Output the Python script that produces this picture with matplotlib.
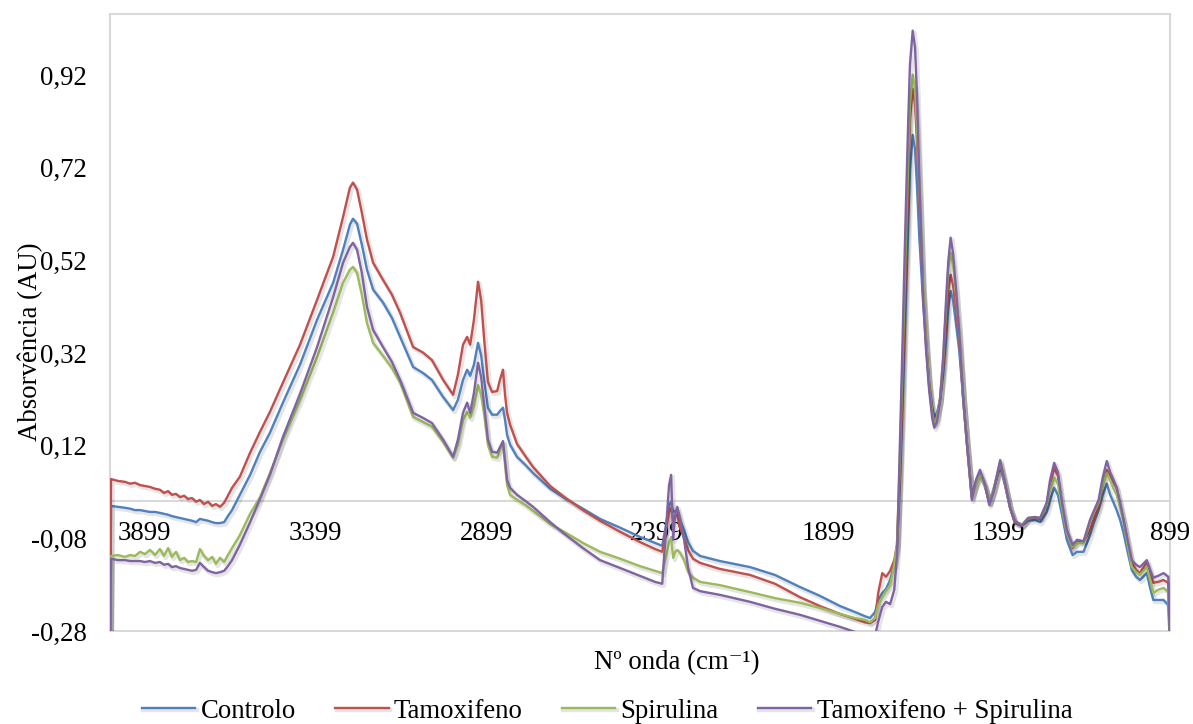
import matplotlib
matplotlib.use("Agg")
import matplotlib.pyplot as plt
import matplotlib.patheffects as pe
from matplotlib.patches import Rectangle

# FTIR spectra (absorbance vs. wavenumber, cm-1)
wavenumber = [
    4000, 3997, 3977, 3956, 3941, 3927, 3912, 3898, 3883, 3868,
    3854, 3842, 3830, 3819, 3807, 3795, 3783, 3772, 3760, 3748,
    3737, 3725, 3713, 3701, 3690, 3678, 3666, 3655, 3643, 3620,
    3590, 3561, 3532, 3494, 3444, 3394, 3347, 3318, 3298, 3289,
    3277, 3263, 3248, 3230, 3201, 3175, 3151, 3113, 3084, 3058,
    3025, 2996, 2982, 2967, 2955, 2946, 2935, 2923, 2914, 2905,
    2894, 2882, 2867, 2859, 2850, 2844, 2838, 2829, 2809, 2785,
    2762, 2712, 2666, 2616, 2566, 2507, 2449, 2405, 2384, 2373,
    2364, 2358, 2352, 2346, 2340, 2332, 2320, 2308, 2294, 2273,
    2215, 2127, 2054, 1981, 1923, 1864, 1820, 1791, 1776, 1761,
    1752, 1740, 1729, 1717, 1705, 1697, 1688, 1682, 1676, 1670,
    1664, 1659, 1651, 1644, 1638, 1632, 1626, 1621, 1612, 1603,
    1594, 1588, 1580, 1571, 1562, 1553, 1547, 1540, 1533, 1524,
    1515, 1503, 1492, 1478, 1466, 1454, 1439, 1427, 1415, 1395,
    1381, 1366, 1352, 1332, 1313, 1293, 1278, 1259, 1249, 1237,
    1226, 1214, 1200, 1183, 1170, 1151, 1132, 1120, 1107, 1095,
    1083, 1073, 1063, 1054, 1044, 1034, 1022, 1010, 997, 986,
    966, 956, 947, 933, 917, 903, 898,
]

controlo = [
    -0.32, -0.010, -0.012, -0.014, -0.016, -0.019, -0.019, -0.021, -0.023, -0.023,
    -0.025, -0.027, -0.029, -0.032, -0.034, -0.036, -0.038, -0.040, -0.042, -0.045,
    -0.038, -0.040, -0.042, -0.045, -0.047, -0.047, -0.045, -0.032, -0.019, 0.014,
    0.057, 0.107, 0.148, 0.213, 0.295, 0.392, 0.472, 0.543, 0.597, 0.610,
    0.599, 0.554, 0.500, 0.457, 0.429, 0.396, 0.355, 0.290, 0.277, 0.262,
    0.225, 0.197, 0.219, 0.262, 0.284, 0.271, 0.295, 0.342, 0.316, 0.262,
    0.202, 0.187, 0.187, 0.195, 0.202, 0.176, 0.143, 0.122, 0.096, 0.079,
    0.061, 0.027, 0.005, -0.016, -0.038, -0.057, -0.077, -0.090, -0.096, -0.051,
    -0.008, -0.001, -0.023, -0.021, -0.019, -0.040, -0.062, -0.088, -0.107, -0.118,
    -0.129, -0.142, -0.159, -0.185, -0.204, -0.226, -0.239, -0.248, -0.252, -0.239,
    -0.213, -0.198, -0.189, -0.170, -0.137, -0.101, 0.046, 0.176, 0.316, 0.457,
    0.597, 0.716, 0.791, 0.759, 0.673, 0.575, 0.500, 0.435, 0.338, 0.256,
    0.204, 0.182, 0.191, 0.219, 0.273, 0.353, 0.418, 0.454, 0.435, 0.381,
    0.327, 0.219, 0.122, 0.014, 0.040, 0.057, 0.031, -0.003, 0.025, 0.074,
    0.035, -0.014, -0.047, -0.053, -0.042, -0.040, -0.045, -0.023, 0.003, 0.029,
    0.014, -0.029, -0.083, -0.116, -0.109, -0.109, -0.073, -0.045, -0.019, 0.014,
    0.038, 0.014, -0.003, -0.019, -0.040, -0.068, -0.109, -0.148, -0.163, -0.170,
    -0.155, -0.187, -0.213, -0.213, -0.213, -0.224, -0.32,
]

tamoxifeno = [
    -0.32, 0.048, 0.044, 0.042, 0.038, 0.040, 0.035, 0.033, 0.031, 0.027,
    0.025, 0.018, 0.022, 0.014, 0.016, 0.009, 0.012, 0.005, 0.007, -0.001,
    0.003, -0.006, -0.001, -0.010, -0.006, -0.012, -0.003, 0.012, 0.029, 0.053,
    0.105, 0.150, 0.193, 0.256, 0.338, 0.435, 0.528, 0.614, 0.677, 0.688,
    0.673, 0.623, 0.565, 0.515, 0.478, 0.446, 0.407, 0.333, 0.321, 0.305,
    0.262, 0.230, 0.273, 0.338, 0.355, 0.338, 0.392, 0.474, 0.435, 0.349,
    0.258, 0.236, 0.238, 0.262, 0.284, 0.230, 0.191, 0.165, 0.124, 0.098,
    0.074, 0.033, 0.007, -0.019, -0.042, -0.066, -0.088, -0.103, -0.109, -0.062,
    -0.023, -0.014, -0.040, -0.034, -0.029, -0.057, -0.079, -0.105, -0.124, -0.133,
    -0.146, -0.159, -0.178, -0.207, -0.226, -0.243, -0.254, -0.261, -0.263, -0.256,
    -0.198, -0.155, -0.163, -0.150, -0.127, -0.094, 0.068, 0.208, 0.370, 0.532,
    0.694, 0.824, 0.891, 0.856, 0.770, 0.662, 0.554, 0.457, 0.349, 0.251,
    0.193, 0.169, 0.180, 0.219, 0.288, 0.385, 0.457, 0.489, 0.467, 0.413,
    0.349, 0.219, 0.122, 0.009, 0.042, 0.063, 0.033, -0.003, 0.020, 0.083,
    0.038, -0.014, -0.045, -0.053, -0.036, -0.036, -0.038, -0.008, 0.035, 0.072,
    0.055, -0.008, -0.068, -0.101, -0.086, -0.088, -0.062, -0.036, -0.012, 0.035,
    0.068, 0.053, 0.040, 0.029, -0.008, -0.040, -0.090, -0.133, -0.148, -0.155,
    -0.131, -0.155, -0.176, -0.174, -0.170, -0.176, -0.32,
]

spirulina = [
    -0.32, -0.118, -0.116, -0.120, -0.116, -0.118, -0.109, -0.114, -0.105, -0.116,
    -0.103, -0.118, -0.101, -0.120, -0.109, -0.127, -0.122, -0.131, -0.129, -0.131,
    -0.103, -0.118, -0.127, -0.120, -0.135, -0.122, -0.131, -0.116, -0.101, -0.073,
    -0.027, 0.009, 0.061, 0.133, 0.219, 0.312, 0.407, 0.472, 0.500, 0.506,
    0.493, 0.446, 0.385, 0.342, 0.314, 0.288, 0.256, 0.182, 0.171, 0.161,
    0.128, 0.094, 0.122, 0.176, 0.193, 0.180, 0.208, 0.251, 0.230, 0.187,
    0.122, 0.096, 0.094, 0.111, 0.126, 0.079, 0.035, 0.014, 0.003, -0.008,
    -0.021, -0.049, -0.068, -0.090, -0.109, -0.124, -0.140, -0.150, -0.155, -0.118,
    -0.088, -0.079, -0.122, -0.109, -0.105, -0.111, -0.127, -0.153, -0.165, -0.174,
    -0.181, -0.196, -0.209, -0.219, -0.230, -0.243, -0.252, -0.256, -0.261, -0.252,
    -0.224, -0.207, -0.194, -0.181, -0.137, -0.094, 0.100, 0.262, 0.424, 0.586,
    0.737, 0.856, 0.921, 0.889, 0.802, 0.694, 0.575, 0.467, 0.349, 0.251,
    0.191, 0.165, 0.180, 0.223, 0.305, 0.424, 0.500, 0.537, 0.511, 0.446,
    0.370, 0.219, 0.122, 0.009, 0.035, 0.057, 0.031, -0.003, 0.025, 0.085,
    0.038, -0.014, -0.042, -0.051, -0.036, -0.034, -0.036, -0.008, 0.025, 0.051,
    0.038, -0.014, -0.068, -0.099, -0.090, -0.090, -0.045, -0.023, -0.003, 0.035,
    0.061, 0.046, 0.027, 0.014, -0.014, -0.045, -0.094, -0.142, -0.153, -0.159,
    -0.142, -0.170, -0.198, -0.191, -0.187, -0.196, -0.32,
]

tamoxifeno_spirulina = [
    -0.32, -0.124, -0.127, -0.127, -0.129, -0.129, -0.129, -0.131, -0.129, -0.133,
    -0.131, -0.137, -0.135, -0.142, -0.140, -0.144, -0.146, -0.148, -0.150, -0.148,
    -0.133, -0.142, -0.150, -0.153, -0.155, -0.153, -0.150, -0.140, -0.127, -0.094,
    -0.045, 0.005, 0.057, 0.139, 0.232, 0.333, 0.441, 0.515, 0.549, 0.558,
    0.543, 0.493, 0.420, 0.370, 0.333, 0.301, 0.262, 0.191, 0.180, 0.169,
    0.133, 0.096, 0.133, 0.191, 0.213, 0.191, 0.234, 0.299, 0.269, 0.208,
    0.133, 0.107, 0.105, 0.117, 0.130, 0.089, 0.046, 0.029, 0.014, 0.001,
    -0.012, -0.045, -0.073, -0.101, -0.127, -0.144, -0.161, -0.174, -0.178, -0.062,
    0.035, 0.057, -0.083, -0.029, -0.012, -0.036, -0.083, -0.144, -0.187, -0.194,
    -0.202, -0.217, -0.232, -0.245, -0.258, -0.271, -0.282, -0.286, -0.288, -0.290,
    -0.260, -0.228, -0.217, -0.222, -0.191, -0.116, 0.133, 0.305, 0.489, 0.662,
    0.824, 0.943, 1.016, 0.979, 0.867, 0.705, 0.565, 0.446, 0.327, 0.241,
    0.180, 0.159, 0.171, 0.219, 0.310, 0.439, 0.517, 0.569, 0.537, 0.457,
    0.364, 0.219, 0.122, 0.003, 0.046, 0.068, 0.035, -0.008, 0.020, 0.089,
    0.040, -0.014, -0.042, -0.053, -0.036, -0.034, -0.036, -0.003, 0.046, 0.083,
    0.063, -0.003, -0.062, -0.094, -0.083, -0.086, -0.040, -0.019, 0.003, 0.051,
    0.087, 0.063, 0.046, 0.029, -0.003, -0.040, -0.083, -0.127, -0.137, -0.142,
    -0.127, -0.148, -0.165, -0.161, -0.155, -0.163, -0.32,
]

series_names = ["Controlo", "Tamoxifeno", "Spirulina", "Tamoxifeno + Spirulina"]
series_values = [controlo, tamoxifeno, spirulina, tamoxifeno_spirulina]
series_colors = ["#4F81BD", "#C0504D", "#9BBB59", "#8064A2"]

y_ticks = [-0.28, -0.08, 0.12, 0.32, 0.52, 0.72, 0.92]
x_ticks = [3899, 3399, 2899, 2399, 1899, 1399, 899]

plt.rcParams["font.family"] = ["Liberation Serif", "DejaVu Serif"]
FS = 19.3

W, H = 1193, 724
fig = plt.figure(figsize=(W / 100, H / 100), dpi=100)
ax = fig.add_axes([110 / W, 1 - 631 / H, 1060 / W, 617 / H])

ax.set_xlim(4000, 898)
ax.set_ylim(-0.28, 1.052)

for name, vals, col in zip(series_names, series_values, series_colors):
    ax.plot(wavenumber, vals, color=col, lw=1.7, label=name,
            solid_joinstyle="round",
            path_effects=[pe.SimpleLineShadow(offset=(1.2, -1.5), shadow_color="black",
                                              alpha=0.10, linewidth=3.2),
                          pe.Normal()])

# plot-area border
ax.add_patch(Rectangle((0, 0), 1, 1, transform=ax.transAxes, fill=False,
                       edgecolor="#d9d9d9", lw=1.5, zorder=0.5, clip_on=False))
for s in ["top", "left", "right"]:
    ax.spines[s].set_visible(False)
ax.spines["bottom"].set_position(("data", 0))
ax.spines["bottom"].set_color("#d9d9d9")
ax.spines["bottom"].set_linewidth(1.5)
ax.spines["bottom"].set_zorder(0.6)

ax.set_yticks(y_ticks)
ax.set_yticklabels([f"{v:.2f}".replace(".", ",") for v in y_ticks], fontsize=FS)
ax.set_xticks(x_ticks)
ax.set_xticklabels([str(v) for v in x_ticks], fontsize=FS)
ax.tick_params(axis="y", length=0, pad=17)
ax.tick_params(axis="x", length=0, pad=14)
for lbl in ax.get_xticklabels():
    lbl.set_zorder(5)

fig.text(30 / W, 1 - 342 / H, "Absorvência (AU)", rotation=90, fontsize=FS,
         ha="center", va="center")
fig.text(677 / W, 1 - 663 / H, "Nº onda (cm⁻¹)", fontsize=FS,
         ha="center", va="center")

handles, labels = ax.get_legend_handles_labels()
fig.legend(handles, labels, loc="center", bbox_to_anchor=(607 / W, 1 - 711 / H),
           ncol=4, frameon=False, fontsize=FS, handlelength=2.0,
           handletextpad=0.2, columnspacing=1.45, borderaxespad=0)

fig.savefig("out.png", dpi=100)
